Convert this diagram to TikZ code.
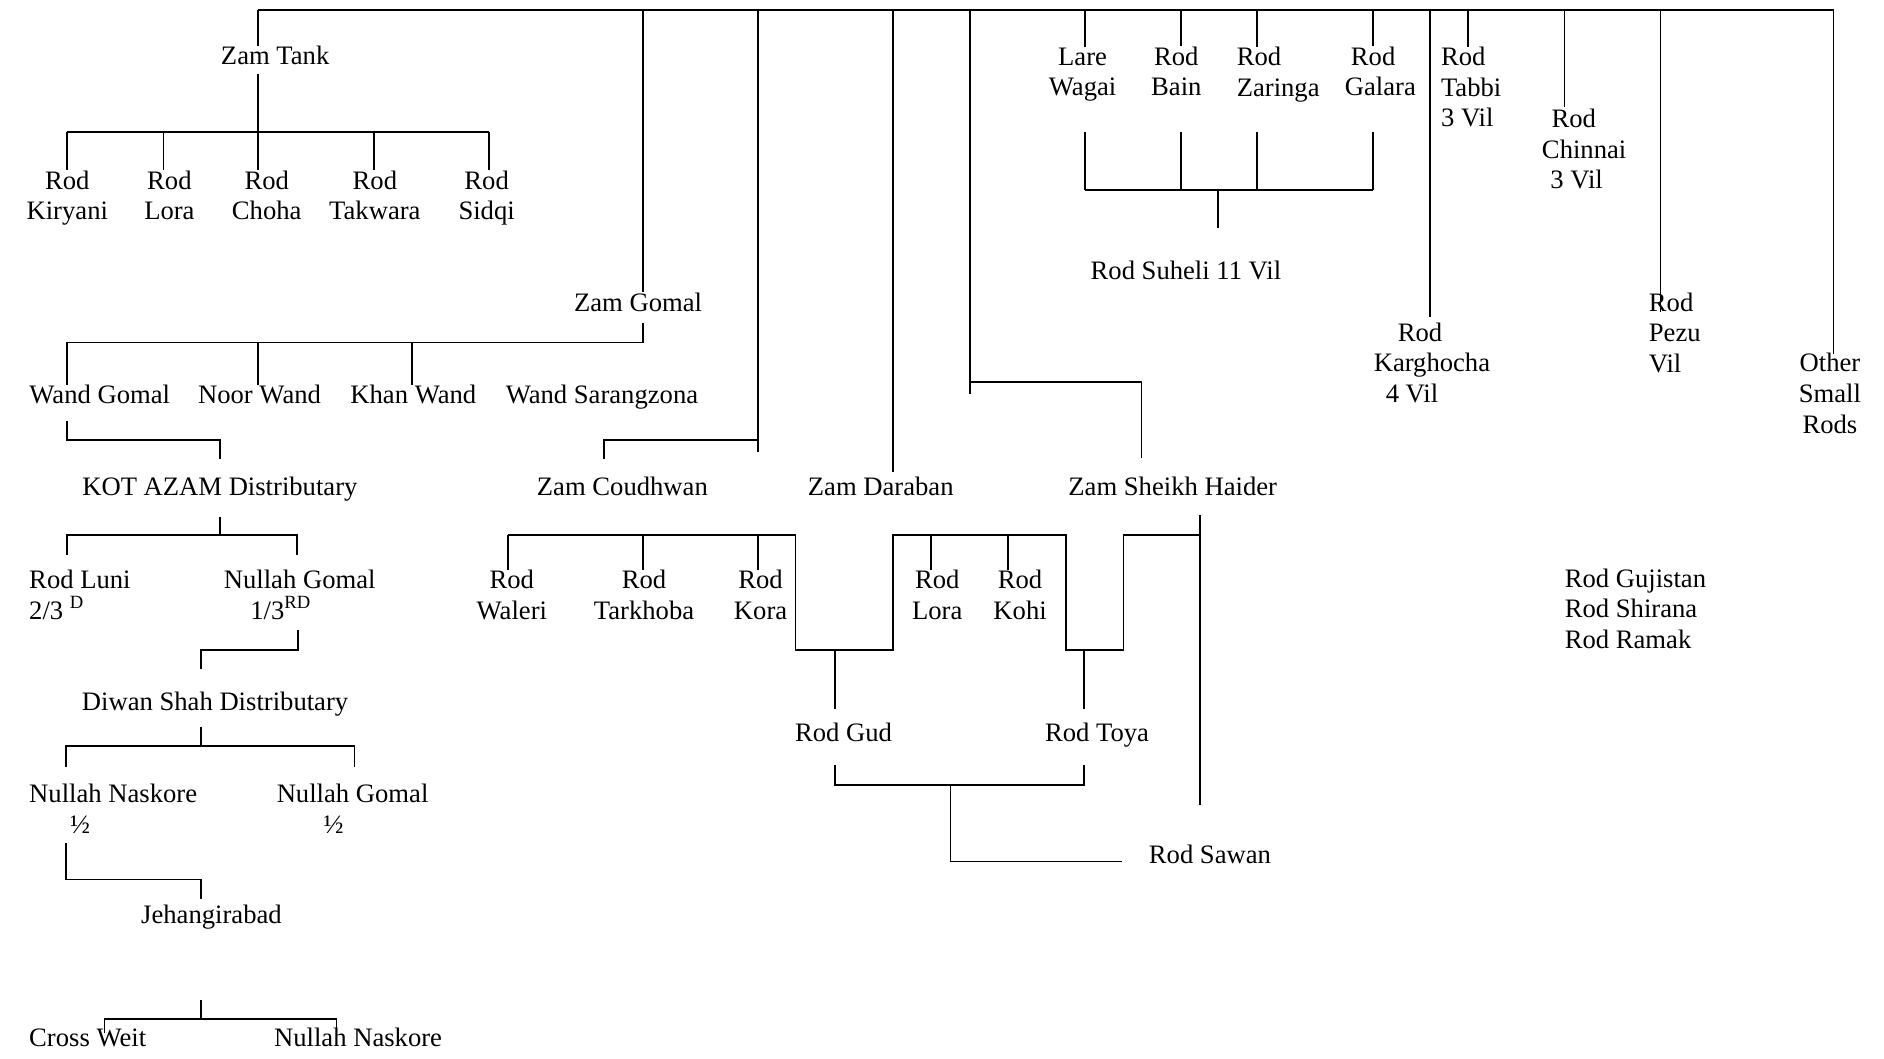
\documentclass[tikz,border=0pt]{standalone}
\usepackage{fontspec}
\setmainfont{Liberation Serif}
\usepackage{tikz}

\begin{document}
\begin{tikzpicture}[
  x=0.6pt, y=-0.6pt,
  lbl/.style={inner sep=0pt, font=\fontsize{13.3}{15.3}\selectfont, align=center},
  one/.style={lbl, anchor=base},
  lblL/.style={lbl, align=left, anchor=west},
  wire/.style={line width=0.9pt},
]
\useasboundingbox (0,0) rectangle (1568,881);

% main canal and its offtakes
\coordinate (busW) at (215,8);
\coordinate (busE) at (1526,8);
\draw[wire] (busW) -- (busE);

% Zam Tank
\node[one] (ztank) at (229,54) {Zam Tank};
\node[lbl] (rkiryani) at (56,165) {Rod\\Kiryani};
\node[lbl] (rlora) at (141,162.5) {Rod\\Lora};
\node[lbl] (rchoha) at (222,162.5) {Rod\\Choha};
\node[lbl] (rtakwara) at (312,162.5) {Rod\\Takwara};
\node[lbl] (rsidqi) at (405,165) {Rod\\Sidqi};
\draw[wire] (busW) -- (ztank.north -| busW);
\draw[wire] (215,62) -- (215,110);
\draw[wire] (56,110) -- (407,110);
\foreach \x/\n in {56/rkiryani,136/rlora,215/rchoha,311/rtakwara,407/rsidqi}
  \draw[wire] (\x,110) -- (\x,0 |- \n.north);

% Zam Gomal
\node[one] (zgomal) at (531,259) {Zam Gomal};
\node[one] (wgomal) at (83,336) {Wand Gomal};
\node[one] (noorwand) at (216,336) {Noor Wand};
\node[one] (khanwand) at (344,336) {Khan Wand};
\node[one] (sarang) at (501,336) {Wand Sarangzona};
\draw[wire] (535,8) -- (535,0 |- zgomal.north);
\draw[wire] (535,269) -- (535,285) -- (56,285);
\foreach \x/\n in {56/wgomal,215/noorwand,343/khanwand}
  \draw[wire] (\x,285) -- (\x,0 |- \n.north);

\node[one] (kotazam) at (183,412) {KOT AZAM Distributary};
\draw[wire] (56,350) -- (56,366) -- (183,366) -- (183,382);
\node[lblL] (rluni) at (24,495) {Rod Luni\\2/3 \textsuperscript{D}};
\node[lblL] (ngomalA) at (186,495) {Nullah Gomal\\\hspace*{13.2pt}1/3\textsuperscript{RD}};
\draw[wire] (183,430) -- (183,445);
\draw[wire] (56,462) -- (56,445) -- (247,445) -- (247,462);

\node[one] (diwan) at (179,591) {Diwan Shah Distributary};
\draw[wire] (248,524) -- (248,541) -- (167,541) -- (167,557);
\node[lblL] (nnaskoreA) at (24,673) {Nullah Naskore\\\hspace*{20.4pt}½};
\node[lblL] (ngomalB) at (230,673) {Nullah Gomal\\\hspace*{23.4pt}½};
\draw[wire] (167,605) -- (167,621);
\draw[wire] (55,638) -- (55,621) -- (295,621) -- (295,638);

\node[one] (jehangir) at (176,769) {Jehangirabad};
\draw[wire] (55,702) -- (55,732) -- (167,732) -- (167,748);
\node[one] (crossweit) at (73,871) {Cross Weit};
\node[one] (nnaskoreB) at (298,871) {Nullah Naskore};
\draw[wire] (167,832) -- (167,848);
\draw[wire] (87,860) -- (87,848) -- (280,848) -- (280,860);

% Zam Coudhwan, Zam Daraban, Zam Sheikh Haider
\node[one] (zcoud) at (518,412) {Zam Coudhwan};
\node[one] (zdaraban) at (733,412) {Zam Daraban};
\node[one] (zsheikh) at (976,412) {Zam Sheikh Haider};
\draw[wire] (631,8) -- (631,376);
\draw[wire] (631,366) -- (503,366) -- (503,382);
\draw[wire] (743,8) -- (743,393);
\draw[wire] (807,8) -- (807,328);
\draw[wire] (807,318) -- (950,318) -- (950,381);

\node[lbl] (rwaleri) at (426,495) {Rod\\Waleri};
\node[lbl] (rtarkhoba) at (536,495) {Rod\\Tarkhoba};
\node[lbl] (rkora) at (633,495) {Rod\\Kora};
\node[lbl] (rlora2) at (780,495) {Rod\\Lora};
\node[lbl] (rkohi) at (849,495) {Rod\\Kohi};
\draw[wire] (423,445) -- (662,445) -- (662,541) -- (743,541) -- (743,445)
  -- (887,445) -- (887,541) -- (935,541) -- (935,445) -- (999,445);
\foreach \x/\n in {423/rwaleri,535/rtarkhoba,631/rkora,775/rlora2,839/rkohi}
  \draw[wire] (\x,445) -- (\x,0 |- \n.north);
\draw[wire] (999,429) -- (999,670);

\node[one] (rgud) at (702,617) {Rod Gud};
\node[one] (rtoya) at (913,617) {Rod Toya};
\node[one] (rsawan) at (1007,719) {Rod Sawan};
\draw[wire] (695,541) -- (695,590);
\draw[wire] (902,541) -- (902,590);
\draw[wire] (695,637) -- (695,653) -- (902,653) -- (902,637);
\draw[wire] (791,653) -- (791,717) -- (934,717);

% Rod Suheli group
\node[lbl] (lare) at (901,62) {Lare\\Wagai};
\node[lbl] (rbain) at (979,59.5) {Rod\\Bain};
\node[lblL] (rzaringa) at (1029,62) {Rod\\Zaringa};
\node[lblL] (rgalara) at (1119,59.5) {\hspace*{3pt}Rod\\Galara};
\foreach \x/\n in {903/lare,983/rbain,1046/rzaringa,1143/rgalara}
  \draw[wire] (\x,8) -- (\x,0 |- \n.north);
\foreach \x in {903,983,1046,1143}
  \draw[wire] (\x,110) -- (\x,158);
\draw[wire] (903,158) -- (1143,158);
\node[one] (rsuheli) at (987,233) {Rod Suheli 11 Vil};
\draw[wire] (1014,158) -- (1014,190);

% other rods on the right
\node[lblL] (rtabbi) at (1199,72.5) {Rod\\Tabbi\\3 Vil};
\node[lblL] (rchinnai) at (1283,124) {\hspace*{4.8pt}Rod\\Chinnai\\\hspace*{4.2pt}3 Vil};
\node[lblL] (rkargh) at (1143,302) {\hspace*{12pt}Rod\\Karghocha\\\hspace*{6pt}4 Vil};
\node[lblL] (rpezu) at (1372,277) {Rod\\Pezu\\Vil};
\node[lbl] (other) at (1523,327.5) {Other\\Small\\Rods};
\node[lblL] (rgujistan) at (1302,506.5) {Rod Gujistan\\Rod Shirana\\Rod Ramak};
\draw[wire] (1190,8) -- (1190,264);
\draw[wire] (1222,8) -- (1222,0 |- rtabbi.north);
\draw[wire] (1302,8) -- (1302,89);
\draw[wire] (1382,8) -- (1382,260);
\draw[wire] (busE) -- (1526,295);
\end{tikzpicture}
\end{document}
